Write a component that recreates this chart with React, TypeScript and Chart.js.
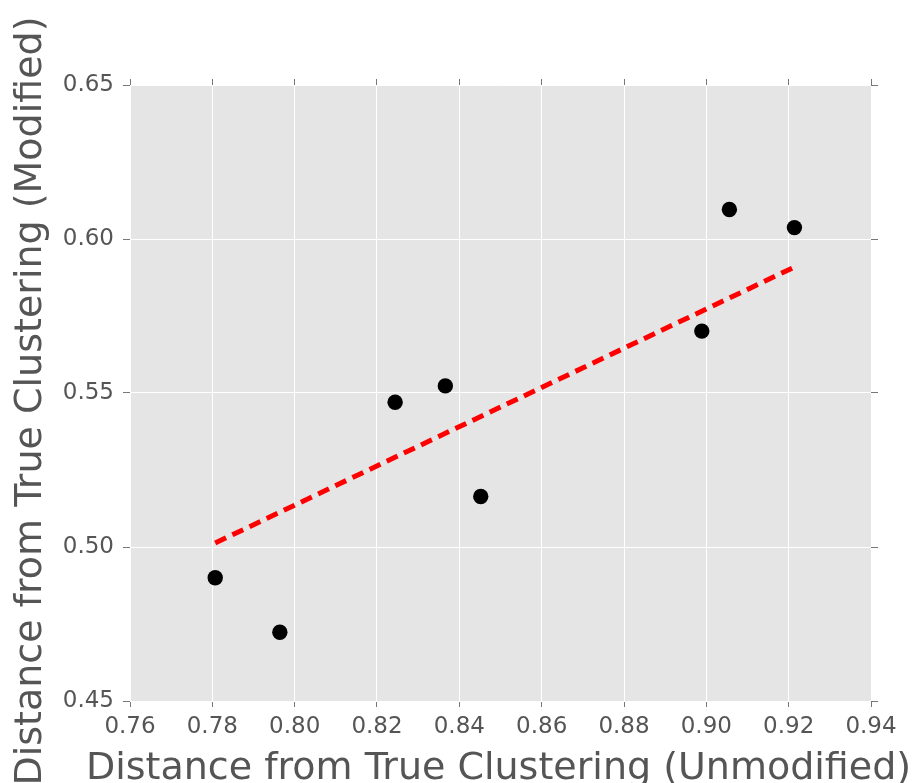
import React, { useEffect, useRef } from "react";
import { Chart, registerables } from "chart.js";

Chart.register(...registerables);

// ---- data ----
const unmodified = [0.7807, 0.7964, 0.8244, 0.8366, 0.8452, 0.8989, 0.9056, 0.9214];
const modified = [0.4900, 0.4723, 0.5470, 0.5523, 0.5164, 0.5701, 0.6096, 0.6037];
const fitX = [0.7807, 0.9214];
const fitY = [0.5013, 0.5909];
const xTicks = [0.76, 0.78, 0.8, 0.82, 0.84, 0.86, 0.88, 0.9, 0.92, 0.94];
const yTicks = [0.45, 0.5, 0.55, 0.6, 0.65];
const xTitle = "Distance from True Clustering (Unmodified)";
const yTitle = "Distance from True Clustering (Modified)";

const FONT = "'DejaVu Sans', sans-serif";
const TEXT = "#555555";
const TICK = "#777777";

const bgPlugin = {
  id: "plotBg",
  beforeDraw(chart: any) {
    const { ctx, chartArea } = chart;
    if (!chartArea) return;
    ctx.save();
    ctx.fillStyle = "#e5e5e5";
    ctx.fillRect(chartArea.left, chartArea.top, chartArea.right - chartArea.left, chartArea.bottom - chartArea.top);
    ctx.restore();
  },
};

// axis titles drawn as canvas text, centred on the plot area (no width squeezing)
const titlesPlugin = {
  id: "axisTitles",
  afterDraw(chart: any) {
    const { ctx, chartArea, height } = chart;
    ctx.save();
    ctx.fillStyle = TEXT;
    ctx.font = `38px ${FONT}`;
    ctx.textAlign = "center";
    ctx.textBaseline = "middle";
    ctx.fillText(xTitle, (chartArea.left + chartArea.right) / 2 - 2, height - 14);
    ctx.translate(31.5, (chartArea.top + chartArea.bottom) / 2 + 8);
    ctx.rotate(-Math.PI / 2);
    ctx.fillText(yTitle, 0, 0);
    ctx.restore();
  },
};

export default function App() {
  const ref = useRef<HTMLCanvasElement | null>(null);

  useEffect(() => {
    if (!ref.current) return;
    const setX = (s: any) => { s.ticks = xTicks.map((v) => ({ value: v })); };
    const setY = (s: any) => { s.ticks = yTicks.map((v) => ({ value: v })); };
    const chart = new Chart(ref.current, {
      type: "scatter",
      data: {
        datasets: [
          {
            type: "scatter",
            data: unmodified.map((x, i) => ({ x, y: modified[i] })),
            backgroundColor: "#000000",
            borderColor: "#000000",
            borderWidth: 0,
            pointRadius: 7.7,
            xAxisID: "x",
            yAxisID: "y",
            order: 0,
          } as any,
          {
            type: "line",
            data: fitX.map((x, i) => ({ x, y: fitY[i] })),
            borderColor: "#ff0000",
            borderWidth: 5,
            borderDash: [12, 7],
            borderCapStyle: "butt",
            pointRadius: 0,
            fill: false,
            tension: 0,
            xAxisID: "x",
            yAxisID: "y",
            order: 1,
          } as any,
        ],
      },
      options: {
        responsive: false,
        animation: false,
        layout: { padding: 0 },
        plugins: { legend: { display: false }, tooltip: { enabled: false } },
        scales: {
          x: {
            type: "linear",
            position: "bottom",
            min: 0.76,
            max: 0.94,
            afterBuildTicks: setX,
            afterFit: (s: any) => { s.height = 82; },
            ticks: {
              callback: (v: any) => Number(v).toFixed(2),
              font: { family: FONT, size: 23 },
              color: TEXT,
              padding: 6,
              maxRotation: 0,
              autoSkip: false,
            },
            grid: { color: "#ffffff", lineWidth: 1, tickColor: TICK, tickLength: 6 },
            border: { display: false },
          },
          x2: {
            type: "linear",
            position: "top",
            min: 0.76,
            max: 0.94,
            afterBuildTicks: setX,
            afterFit: (s: any) => { s.height = 85; },
            ticks: { display: false },
            grid: { drawOnChartArea: false, tickColor: TICK, tickLength: 6 },
            border: { display: false },
          },
          y: {
            type: "linear",
            position: "left",
            min: 0.45,
            max: 0.65,
            afterBuildTicks: setY,
            afterFit: (s: any) => { s.width = 130; },
            ticks: {
              callback: (v: any) => Number(v).toFixed(2),
              font: { family: FONT, size: 23 },
              color: TEXT,
              padding: 9,
              autoSkip: false,
            },
            grid: { color: "#ffffff", lineWidth: 1, tickColor: TICK, tickLength: 7 },
            border: { display: false },
          },
          y2: {
            type: "linear",
            position: "right",
            min: 0.45,
            max: 0.65,
            afterBuildTicks: setY,
            afterFit: (s: any) => { s.width = 47; },
            ticks: { display: false },
            grid: { drawOnChartArea: false, tickColor: TICK, tickLength: 7 },
            border: { display: false },
          },
        },
      } as any,
      plugins: [bgPlugin, titlesPlugin],
    });
    return () => chart.destroy();
  }, []);

  return (
    <div style={{ position: "absolute", left: 0, top: 0, width: 918, height: 783, background: "#ffffff" }}>
      <canvas ref={ref} width={918} height={783} style={{ display: "block", width: 918, height: 783 }} />
    </div>
  );
}
